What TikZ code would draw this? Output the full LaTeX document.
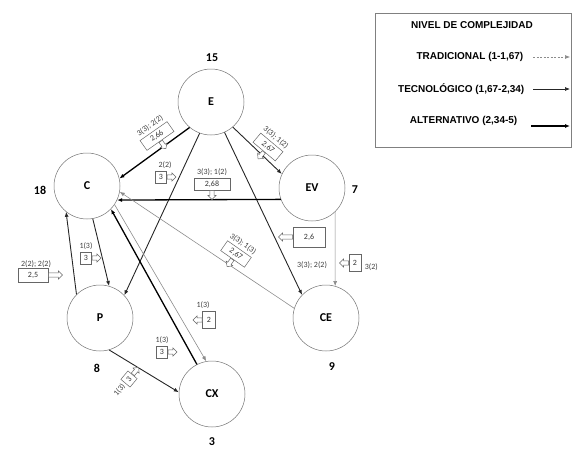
\documentclass[tikz,border=0pt]{standalone}
\usepackage{fontspec}
\setmainfont{Carlito}
\newfontfamily\legfont{Liberation Sans}
\usetikzlibrary{shapes.arrows,arrows.meta}
\begin{document}
\begin{tikzpicture}[x=1pt,y=-1pt,
  circ/.style={circle,draw=black!55,line width=0.5pt,minimum size=66pt,inner sep=0pt,font=\bfseries\fontsize{12}{12}\selectfont},
  num/.style={font=\bfseries\fontsize{12}{12}\selectfont,inner sep=1pt},
  lbl/.style={font=\fontsize{8}{8}\selectfont,text=black!75,inner sep=0.8pt,outer sep=1.8pt},
  vbox/.style={draw=black!60,line width=0.5pt,font=\fontsize{8}{8}\selectfont,text=black!80,minimum height=12pt,inner sep=1.5pt},
  stub/.style={single arrow,draw=black!60,fill=white,line width=0.5pt,minimum height=9pt,single arrow head extend=2pt,inner sep=1.8pt,anchor=tail},
  tip/.style={-{Latex[length=5pt,width=4pt]}},
  trad/.style={tip,draw=black!45,line width=0.6pt},
  tecn/.style={tip,draw=black!85,line width=0.9pt},
  alt/.style={tip,draw=black,line width=1.3pt},
  legt/.style={font=\legfont\bfseries\fontsize{10}{11}\selectfont,anchor=east,inner sep=0.5pt}
]
\useasboundingbox (0,0) rectangle (573,448);

% nodes
\node[circ] (E)  at (211,102) {E};
\node[circ] (C)  at (87,186)  {C};
\node[circ] (EV) at (312,188) {EV};
\node[circ] (P)  at (100,318) {P};
\node[circ] (CE) at (326,318) {CE};
\node[circ] (CX) at (212,394) {CX};

\node[num] (nE)  at (212,58)  {15};
\node[num] (nC)  at (40,190)  {18};
\node[num] (nEV) at (355,190) {7};
\node[num] (nP)  at (97,368)  {8};
\node[num] (nCE) at (332,367) {9};
\node[num] (nCX) at (212,442) {3};

% connectors
\draw[alt]  (E.230)  -- (C.13);
\draw[tecn] (E.250)  -- (P.43);
\draw[tecn] (E.294)  -- (CE.136);
\draw[tecn] (E.311)  -- (EV.155);
\draw[alt]  (EV.200) -- (C.335);
\draw[trad] (CE.163) -- (C.350);
\draw[trad] (EV.314) -- (CE.74);
\draw[tecn] (C.280)  -- (P.74);
\draw[tecn] (P.135)  -- (C.231);
\draw[alt]  (CX.117) -- (C.316);
\draw[trad] (C.326)  -- (CX.100);
\draw[tecn] (P.286)  -- (CX.177);

% value callouts
\node[vbox,rotate=35,minimum width=33pt] (b1) at (157,136) {2,66};
\node[stub,rotate=-55] (s1) at (b1.south) {};
\node[lbl,rotate=35,anchor=south] (t1) at (b1.north) {3(3); 2(2)};

\node[vbox,rotate=-40,minimum width=29pt] (b2) at (268,147) {2,67};
\node[stub,rotate=-130] (s2) at (b2.south) {};
\node[lbl,rotate=-40,anchor=south] (t2) at (b2.north) {3(3); 1(2)};

\node[vbox,minimum width=11pt] (b3) at (161,177) {3};
\node[stub] (s3) at (b3.east) {};
\node[lbl,anchor=south] (t3) at ([xshift=4pt]b3.north) {2(2)};

\node[vbox,minimum width=36pt] (b4) at (212,184) {2,68};
\node[stub,rotate=-90] (s4) at (b4.south) {};
\node[lbl,anchor=south] (t4) at (b4.north) {3(3); 1(2)};

\node[vbox,rotate=-35,minimum width=29pt] (b5) at (236,254) {2,67};
\node[stub,rotate=-125] (s5) at (b5.south) {};
\node[lbl,rotate=-35,anchor=south] (t5) at (b5.north) {3(3); 1(3)};

\node[vbox,minimum width=32pt,minimum height=20pt] (b6) at (309,237) {2,6};
\node[stub,rotate=180,minimum height=14pt] (s6) at (b6.west) {};
\node[lbl] (t7) at (312,265) {3(3); 2(2)};

\node[vbox,minimum width=12pt,minimum height=17pt] (b8) at (355,263) {2};
\node[stub,rotate=180] (s8) at (b8.west) {};
\node[lbl,anchor=west] (t8) at ([xshift=1pt,yshift=-4pt]b8.east) {3(2)};

\node[vbox,minimum width=30pt,minimum height=14pt] (b9) at (33,275) {2,5};
\node[stub,minimum height=14pt] (s9) at (b9.east) {};
\node[lbl,anchor=south] (t9) at ([xshift=3pt,yshift=-2pt]b9.north) {2(2); 2(2)};

\node[vbox,minimum width=11pt] (b10) at (86,258) {3};
\node[stub] (s10) at (b10.east) {};
\node[lbl,anchor=south] (t10) at (b10.north) {1(3)};

\node[vbox,minimum width=13pt,minimum height=17pt] (b11) at (209,320) {2};
\node[stub,rotate=180] (s11) at (b11.west) {};
\node[lbl,anchor=south] (t11) at ([xshift=-6pt]b11.north) {1(3)};

\node[vbox,minimum width=11pt] (b12) at (162,352) {3};
\node[stub] (s12) at (b12.east) {};
\node[lbl,anchor=south] (t12) at (b12.north) {1(3)};

\node[vbox,rotate=50,minimum width=11pt] (b13) at (129,379) {3};
\node[stub,rotate=50] (s13) at (b13.east) {};
\node[lbl,rotate=50,anchor=east] (t13) at (b13.west) {1(3)};

% legend
\node[draw=black!50,line width=0.6pt,minimum width=196pt,minimum height=134pt,inner sep=0pt] (leg) at (473,80) {};
\node[font=\legfont\bfseries\fontsize{10}{11}\selectfont,inner sep=0.5pt] (lt) at (472,25) {NIVEL DE COMPLEJIDAD};
\node[legt] (l1) at (524,57) {TRADICIONAL (1-1,67)};
\node[legt] (l2) at (525,89) {TECNOLÓGICO (1,67-2,34)};
\node[legt] (l3) at (518,121) {ALTERNATIVO (2,34-5)};
\coordinate (a1) at (533,57);  \coordinate (e1) at (570,57);
\coordinate (a2) at (533,89);  \coordinate (e2) at (570,89);
\coordinate (a3) at (531,126); \coordinate (e3) at (570,126);
\draw[trad,dashed,dash pattern=on 2pt off 1.5pt] (a1) -- (e1);
\draw[tecn,line width=0.7pt] (a2) -- (e2);
\draw[alt] (a3) -- (e3);
\end{tikzpicture}
\end{document}
